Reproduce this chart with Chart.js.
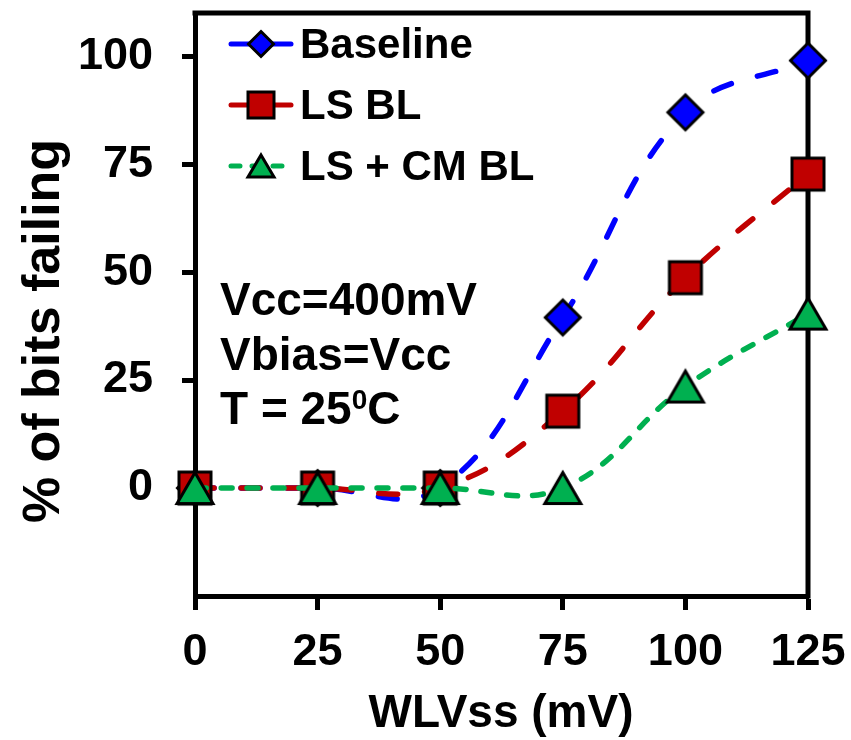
<!DOCTYPE html>
<html>
<head>
<meta charset="utf-8">
<script src="https://cdn.jsdelivr.net/npm/chart.js@4.4.1/dist/chart.umd.min.js"></script>
<style>
  html, body { margin: 0; padding: 0; background: #fff; }
</style>
</head>
<body>
<canvas id="grafico" width="851" height="740"></canvas>
<script>
// valores
const wlvss = [0, 25, 50, 75, 100, 125];
const baseline = [0, 0, 0, 39.5, 87, 99];
const lsBL = [0, 0, 0, 17.8, 48.7, 72.7];
const lsCmBL = [0, 0, 0, 0, 23.5, 40.4];
const yTicks = [0, 25, 50, 75, 100];
const nomes = ['Baseline', 'LS BL', 'LS + CM BL'];
const notas = [['Vcc=400mV'], ['Vbias=Vcc'], ['T = 25', '0', 'C']];

const FONTE = "'Liberation Sans', Arial, sans-serif";
const cores = ['#0000FF', '#C00000', '#00B050'];
const tracos = [[19, 27], [19, 27], [11, 15]];

// marcador desenhado num canvas (centro da caixa no ponto)
function marcador(forma, w, h, cor) {
  const b = 3, m = 8;
  const c = document.createElement('canvas');
  c.width = Math.ceil(w + 2 * m) + (Math.ceil(w + 2 * m) % 2);
  c.height = Math.ceil(h + 2 * m) + (Math.ceil(h + 2 * m) % 2);
  const g = c.getContext('2d');
  const cx = c.width / 2, cy = c.height / 2;
  g.beginPath();
  if (forma === 'losango') {
    g.moveTo(cx, cy - h / 2);
    g.lineTo(cx + w / 2, cy);
    g.lineTo(cx, cy + h / 2);
    g.lineTo(cx - w / 2, cy);
  } else if (forma === 'quadrado') {
    g.rect(cx - w / 2, cy - h / 2, w, h);
  } else {
    g.moveTo(cx, cy - h / 2);
    g.lineTo(cx + w / 2, cy + h / 2);
    g.lineTo(cx - w / 2, cy + h / 2);
  }
  g.closePath();
  g.fillStyle = cor;
  g.fill();
  g.lineWidth = b;
  g.strokeStyle = '#000';
  g.stroke();
  return c;
}

const marcas = [
  marcador('losango', 35, 35, cores[0]),
  marcador('quadrado', 32, 32, cores[1]),
  marcador('triangulo', 36, 31, cores[2])
];
const marcasLegenda = [
  marcador('losango', 25, 25, cores[0]),
  marcador('quadrado', 26, 26, cores[1]),
  marcador('triangulo', 26, 22, cores[2])
];

function serie(i, valores) {
  return {
    label: nomes[i],
    data: wlvss.map((x, k) => ({ x: x, y: valores[k] })),
    borderColor: cores[i],
    backgroundColor: cores[i],
    borderWidth: 5.5,
    borderDash: tracos[i],
    borderCapStyle: 'round',
    tension: 0.4,
    pointStyle: marcas[i],
    pointRadius: 18,
    pointHoverRadius: 18,
    clip: false,
    order: 3 - i
  };
}

const moldura = {
  id: 'moldura',
  beforeDatasetsDraw(chart) {
    const { ctx, chartArea: a } = chart;
    ctx.save();
    ctx.strokeStyle = '#000';
    ctx.lineWidth = 5;
    ctx.lineCap = 'square';
    ctx.beginPath();
    ctx.moveTo(a.left, a.top);
    ctx.lineTo(a.right, a.top);
    ctx.lineTo(a.right, a.bottom);
    ctx.stroke();
    ctx.restore();
  },
  afterDatasetsDraw(chart) {
    const ctx = chart.ctx;
    ctx.save();

    // legenda
    const linhas = [44, 105, 166];
    chart.data.datasets.forEach((ds, i) => {
      const y = linhas[i];
      ctx.strokeStyle = ds.borderColor;
      ctx.lineWidth = 5;
      ctx.lineCap = 'round';
      ctx.setLineDash(i === 2 ? [9, 12] : []);
      ctx.beginPath();
      ctx.moveTo(231, y);
      ctx.lineTo(291, y);
      ctx.stroke();
      ctx.setLineDash([]);
      const mk = marcasLegenda[i];
      ctx.drawImage(mk, 261 - mk.width / 2, y - mk.height / 2);
      ctx.fillStyle = '#000';
      ctx.font = 'bold 42px ' + FONTE;
      ctx.textAlign = 'left';
      ctx.textBaseline = 'alphabetic';
      ctx.fillText(ds.label, 300, y + 14);
    });

    // notas
    const bases = [315, 370, 424];
    notas.forEach((partes, i) => {
      let x = 220;
      partes.forEach((t, k) => {
        const sup = k % 2 === 1;
        ctx.font = 'bold ' + (sup ? 28 : 46) + 'px ' + FONTE;
        ctx.fillText(t, x, bases[i] - (sup ? 15 : 0));
        x += ctx.measureText(t).width;
      });
    });

    // titulos dos eixos
    ctx.font = 'bold 46px ' + FONTE;
    ctx.textAlign = 'center';
    ctx.fillText('WLVss (mV)', 501, 727);

    ctx.translate(59, 331);
    ctx.rotate(-Math.PI / 2);
    ctx.font = 'bold 52px ' + FONTE;
    ctx.fillText('% of bits failing', 0, 0);
    ctx.restore();
  }
};

const ctx = document.getElementById('grafico').getContext('2d');
new Chart(ctx, {
  type: 'line',
  data: {
    datasets: [serie(0, baseline), serie(1, lsBL), serie(2, lsCmBL)]
  },
  options: {
    responsive: false,
    animation: false,
    devicePixelRatio: 1,
    layout: { autoPadding: false, padding: { top: 13, right: 43, left: 0, bottom: 0 } },
    plugins: {
      legend: { display: false },
      tooltip: { enabled: false }
    },
    scales: {
      x: {
        type: 'linear',
        min: 0,
        max: 125,
        afterBuildTicks: s => { s.ticks = wlvss.map(v => ({ value: v })); },
        afterFit: s => { s.height = 144; s.paddingLeft = 0; s.paddingRight = 0; },
        ticks: { color: '#000', padding: 16, maxRotation: 0, font: { family: FONTE, size: 45, weight: 'bold' } },
        grid: { drawOnChartArea: false, drawTicks: true, tickLength: 14, tickWidth: 5, tickColor: '#000', color: '#000' },
        border: { display: true, color: '#000', width: 5 }
      },
      y: {
        min: -25,
        max: 110,
        afterBuildTicks: s => { s.ticks = yTicks.map(v => ({ value: v })); },
        afterFit: s => { s.width = 195; s.paddingTop = 0; s.paddingBottom = 0; },
        ticks: { color: '#000', padding: 29, font: { family: FONTE, size: 45, weight: 'bold' } },
        grid: { drawOnChartArea: false, drawTicks: true, tickLength: 13, tickWidth: 5, tickColor: '#000', color: '#000' },
        border: { display: true, color: '#000', width: 5 }
      }
    }
  },
  plugins: [moldura]
});
</script>
</body>
</html>
